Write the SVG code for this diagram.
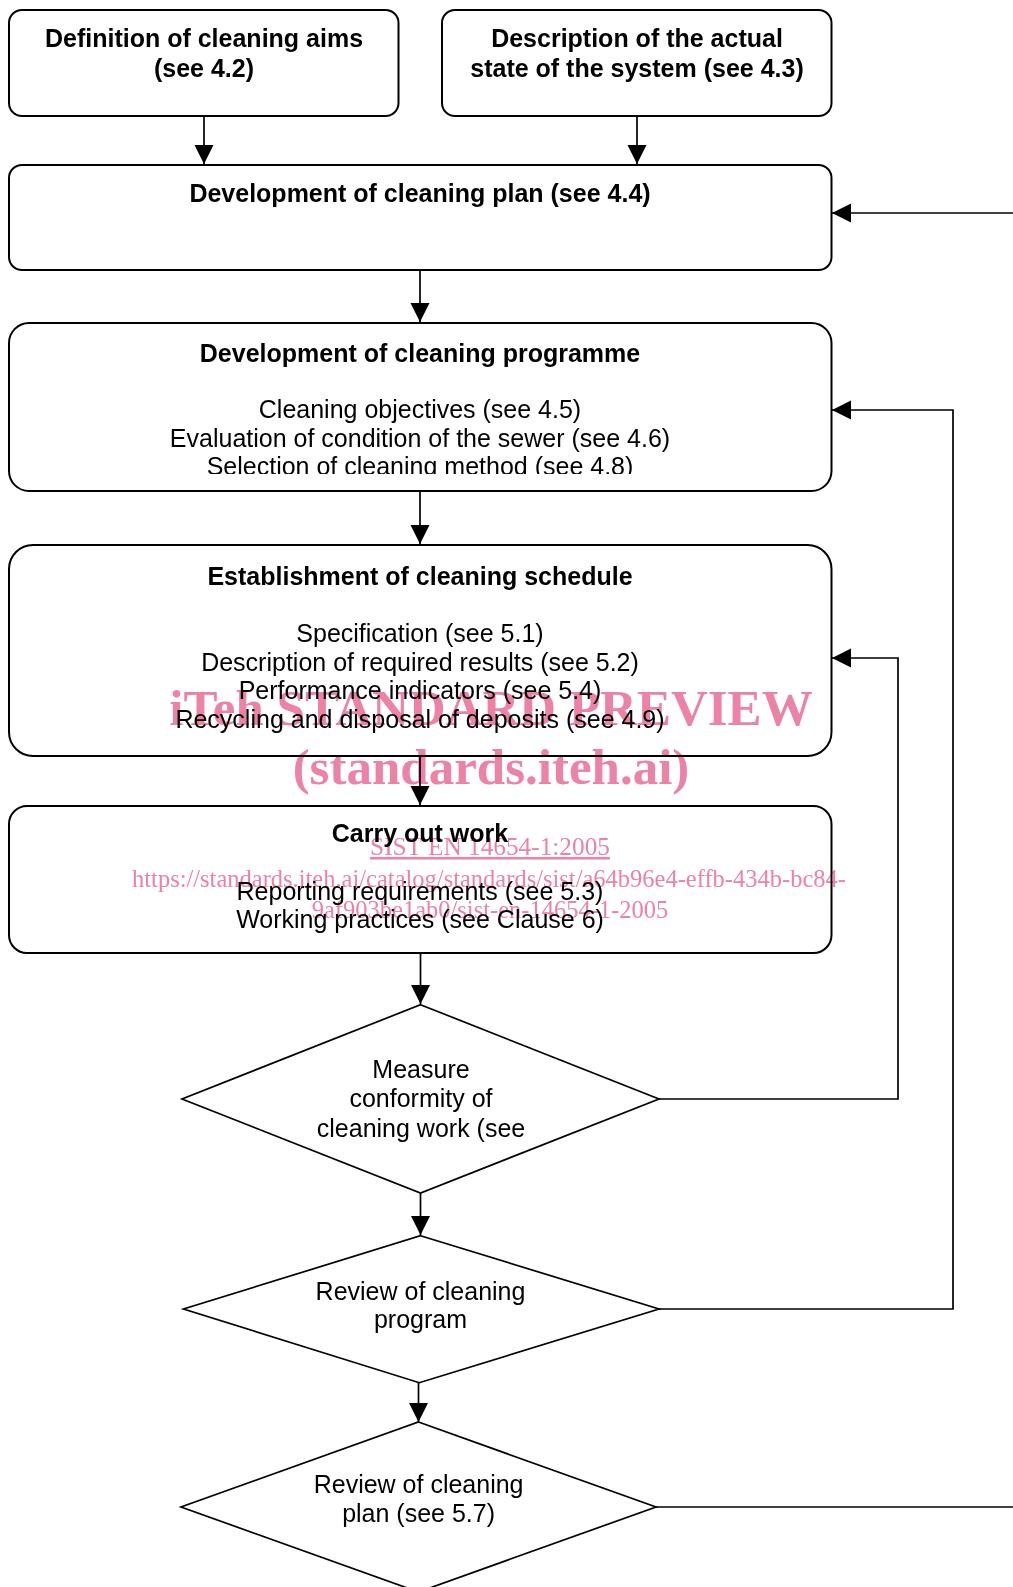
<svg xmlns="http://www.w3.org/2000/svg" width="1013" height="1587" viewBox="0 0 1013 1587">
<defs>
<style>
.box{fill:none;stroke:#000;stroke-width:2}
.dia{fill:none;stroke:#000;stroke-width:1.7;stroke-linejoin:miter}
.con{fill:none;stroke:#000;stroke-width:1.7}
.t{font-family:"Liberation Sans",Arial,sans-serif;font-size:25px;fill:#000;text-anchor:middle}
.b{font-weight:bold}
.wm{font-family:"Liberation Serif","Times New Roman",serif;fill:#ed82a7;text-anchor:middle}
.wmb{font-size:51px;font-weight:bold}
.wms{font-size:24.5px}
</style>
<marker id="arr" markerUnits="userSpaceOnUse" markerWidth="20" markerHeight="20" refX="19" refY="10" orient="auto">
<path d="M0,0.5 L19,10 L0,19.5 z" fill="#000"/>
</marker>
<clipPath id="clipProg"><rect x="9" y="323" width="822" height="151"/></clipPath>
</defs>
<rect width="1013" height="1587" fill="#fff"/>

<g id="connectors">
<line class="con" x1="204" y1="116" x2="204" y2="164" marker-end="url(#arr)"/>
<line class="con" x1="637" y1="116" x2="637" y2="164" marker-end="url(#arr)"/>
<line class="con" x1="420" y1="271" x2="420" y2="322" marker-end="url(#arr)"/>
<line class="con" x1="420" y1="492" x2="420" y2="544" marker-end="url(#arr)"/>
<line class="con" x1="420" y1="756" x2="420" y2="805" marker-end="url(#arr)"/>
<line class="con" x1="420.5" y1="953" x2="420.5" y2="1004" marker-end="url(#arr)"/>
<line class="con" x1="420.5" y1="1193" x2="420.5" y2="1235" marker-end="url(#arr)"/>
<line class="con" x1="418.5" y1="1383" x2="418.5" y2="1422" marker-end="url(#arr)"/>
<polyline class="con" points="659,1099 898,1099 898,658 832,658" marker-end="url(#arr)"/>
<polyline class="con" points="659,1309 953,1309 953,410 832,410" marker-end="url(#arr)"/>
<line class="con" x1="1013" y1="213" x2="832" y2="213" marker-end="url(#arr)"/>
<line class="con" x1="656" y1="1507" x2="1013" y2="1507"/>
</g>

<g id="node-aims">
<rect class="box" x="9" y="10" width="389.5" height="106" rx="13"/>
<text class="t b" x="204" y="46.7">Definition of cleaning aims</text>
<text class="t b" x="204" y="76.7">(see 4.2)</text>
</g>

<g id="node-state">
<rect class="box" x="442" y="10" width="389.5" height="106" rx="13"/>
<text class="t b" x="637" y="46.7">Description of the actual</text>
<text class="t b" x="637" y="76.7">state of the system (see 4.3)</text>
</g>

<g id="node-plan">
<rect class="box" x="9" y="165" width="822.5" height="105" rx="13"/>
<text class="t b" x="420" y="201.7">Development of cleaning plan (see 4.4)</text>
</g>

<g id="node-programme">
<rect class="box" x="9" y="323" width="822.5" height="168" rx="20"/>
<text class="t b" x="420" y="361.7">Development of cleaning programme</text>
<g clip-path="url(#clipProg)">
<text class="t" x="420" y="418">Cleaning objectives (see 4.5)</text>
<text class="t" x="420" y="446.7">Evaluation of condition of the sewer (see 4.6)</text>
<text class="t" x="420" y="475.4">Selection of cleaning method (see 4.8)</text>
</g>
</g>

<g id="node-schedule">
<rect class="box" x="9" y="545" width="822.5" height="211" rx="24"/>
<text class="t b" x="420" y="585">Establishment of cleaning schedule</text>
<text class="t" x="420" y="641.7">Specification (see 5.1)</text>
<text class="t" x="420" y="670.7">Description of required results (see 5.2)</text>
<text class="t" x="420" y="699">Performance indicators (see 5.4)</text>
<text class="t" x="420" y="728">Recycling and disposal of deposits (see 4.9)</text>
</g>

<g id="node-work">
<rect class="box" x="9" y="806" width="822.5" height="147" rx="18"/>
<text class="t b" x="420" y="841.7">Carry out work</text>
<text class="t" x="420" y="900">Reporting requirements (see 5.3)</text>
<text class="t" x="420" y="928">Working practices (see Clause 6)</text>
</g>

<g id="node-measure">
<polygon class="dia" points="420.5,1004.7 659,1099 420.5,1193 182,1099"/>
<text class="t" x="421" y="1078">Measure</text>
<text class="t" x="421" y="1107">conformity of</text>
<text class="t" x="421" y="1137">cleaning work (see</text>
</g>

<g id="node-review-program">
<polygon class="dia" points="420.5,1235.7 659,1309 419.3,1382.7 183.5,1309"/>
<text class="t" x="420.5" y="1300">Review of cleaning</text>
<text class="t" x="420.5" y="1328">program</text>
</g>

<g id="node-review-plan">
<polygon class="dia" points="418.5,1422 656,1507 418.5,1592 181,1507"/>
<text class="t" x="418.6" y="1493">Review of cleaning</text>
<text class="t" x="418.6" y="1521.7">plan (see 5.7)</text>
</g>

<g id="watermark" style="mix-blend-mode:multiply">
<text class="wm wmb" x="491" y="725">iTeh STANDARD PREVIEW</text>
<text class="wm wmb" x="491" y="784">(standards.iteh.ai)</text>
<text class="wm" x="490" y="855" font-size="25.3" text-decoration="underline">SIST EN 14654-1:2005</text>
<text class="wm wms" x="489" y="887">https://standards.iteh.ai/catalog/standards/sist/a64b96e4-effb-434b-bc84-</text>
<text class="wm wms" x="490" y="918">9af903be1ab0/sist-en-14654-1-2005</text>
</g>
</svg>
